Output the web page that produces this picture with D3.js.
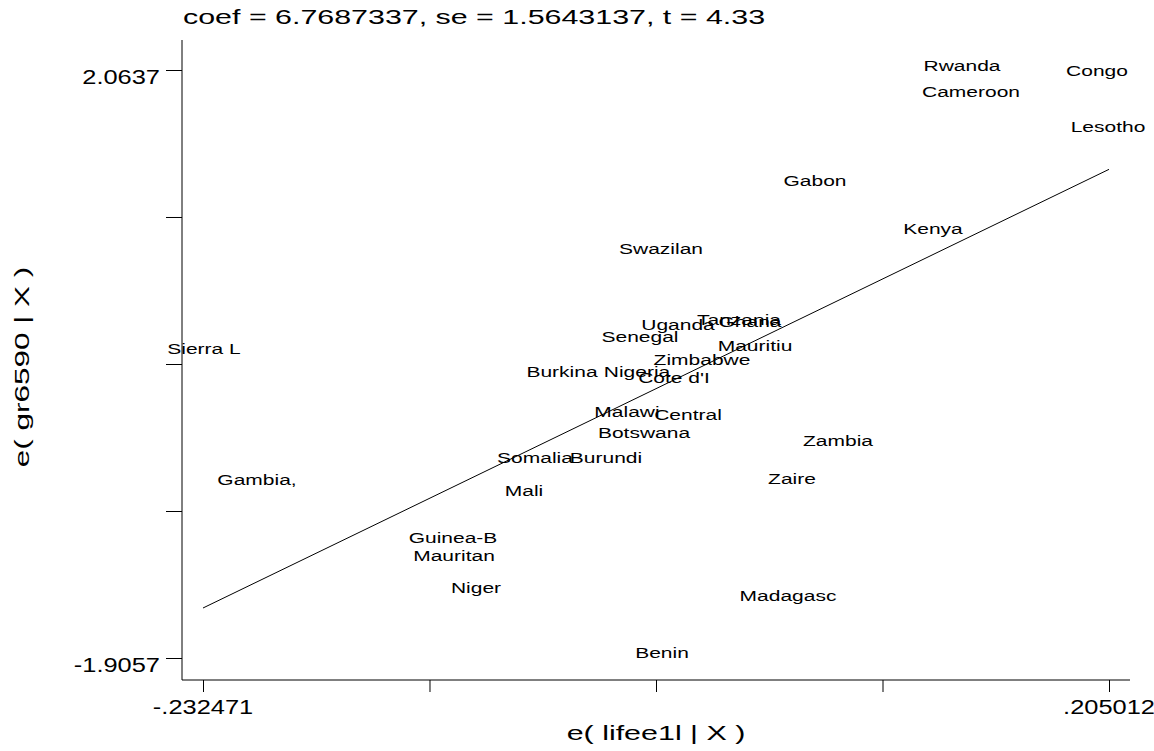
<!DOCTYPE html>
<html><head><meta charset="utf-8">
<script src="https://cdn.jsdelivr.net/npm/d3@7"></script>
<style>body{margin:0;background:#fff}text{font-family:"Liberation Sans",Arial,sans-serif}</style>
</head><body><svg></svg>
<script>
// added-variable plot values
const countries = ["Rwanda","Congo","Cameroon","Lesotho","Gabon","Kenya","Swazilan","Tanzania","Ghana","Uganda","Senegal","Sierra L","Mauritiu","Zimbabwe","Burkina","Nigeria","Cote d'I","Malawi","Central","Botswana","Zambia","Somalia","Burundi","Gambia,","Zaire","Mali","Guinea-B","Mauritan","Niger","Madagasc","Benin"];
const xVals = [.13403,.19922,.13837,.20453,.06305,.12003,-.01132,.02635,.03166,-.00311,-.02146,-.23199,.03407,.00848,-.05912,-.02290,-.00504,-.02773,.00172,-.01952,.07415,-.07216,-.03787,-.2064,.05194,-.07747,-.11175,-.11127,-.10065,.05001,-.01083];
const yVals = [2.0907,2.0569,1.9152,1.6789,1.3144,.9903,.8553,.3760,.3625,.3423,.2613,.1803,.2005,.1060,.0250,.0250,-.0155,-.2450,-.2653,-.3868,-.4408,-.5556,-.5556,-.7041,-.6973,-.7783,-1.0956,-1.2171,-1.4332,-1.4872,-1.8720];
const xTicks = [-.232471,-.1231003,-.0137295,.0956413,.205012];
const yTicks = [2.0637,1.0714,.0790,-.9134,-1.9057];
const xTickLabels = ["-.232471","","","",".205012"];
const yTickLabels = ["2.0637","","","","-1.9057"];
const coef = 6.7687337, intercept = 0.0053;

const svg = d3.select("svg").attr("width",1154).attr("height",751);
const x = d3.scaleLinear().domain([-.232471,.205012]).range([203,1109]);
const y = d3.scaleLinear().domain([-1.9057,2.0637]).range([658,70]);

// stretched text helper (wide Stata-like glyphs)
function wtext(px, py, str, size, sx, anchor, rot) {
  const g = svg.append("g").attr("transform", `translate(${px},${py})` + (rot ? ` rotate(${rot})` : "") + ` scale(${sx},1)`);
  g.append("text").attr("text-anchor", anchor).attr("font-size", size).attr("dy", "0.35em").text(str);
}

svg.append("g").attr("transform","translate(182,0)")
  .call(d3.axisLeft(y).tickValues(yTicks).tickSize(16).tickFormat(""))
  .call(g=>g.select(".domain").attr("d","M0,40V680"));
svg.append("g").attr("transform","translate(0,680)")
  .call(d3.axisBottom(x).tickValues(xTicks).tickSize(12).tickFormat(""))
  .call(g=>g.select(".domain").attr("d","M182,0H1130"));
yTicks.forEach((t,i)=>{ if (yTickLabels[i]) wtext(160, y(t)+7, yTickLabels[i], 20, 1.27, "end"); });
xTicks.forEach((t,i)=>{ if (xTickLabels[i]) wtext(x(t), 707, xTickLabels[i], 20, 1.27, "middle"); });

svg.append("line").attr("x1",x(-.232471)).attr("y1",y(intercept+coef*-.232471))
  .attr("x2",x(.205012)).attr("y2",y(intercept+coef*.205012)).attr("stroke","#000").attr("stroke-width",1);

countries.forEach((c,i)=>wtext(x(xVals[i]), y(yVals[i]), c, 15, 1.4, "middle"));

wtext(183, 17, "coef = 6.7687337, se = 1.5643137, t = 4.33", 20, 1.52, "start");
wtext(656, 733, "e( lifee1l | X )", 21, 1.45, "middle");
wtext(22, 367, "e( gr6590 | X )", 21, 1.5, "middle", -90);
</script></body></html>
